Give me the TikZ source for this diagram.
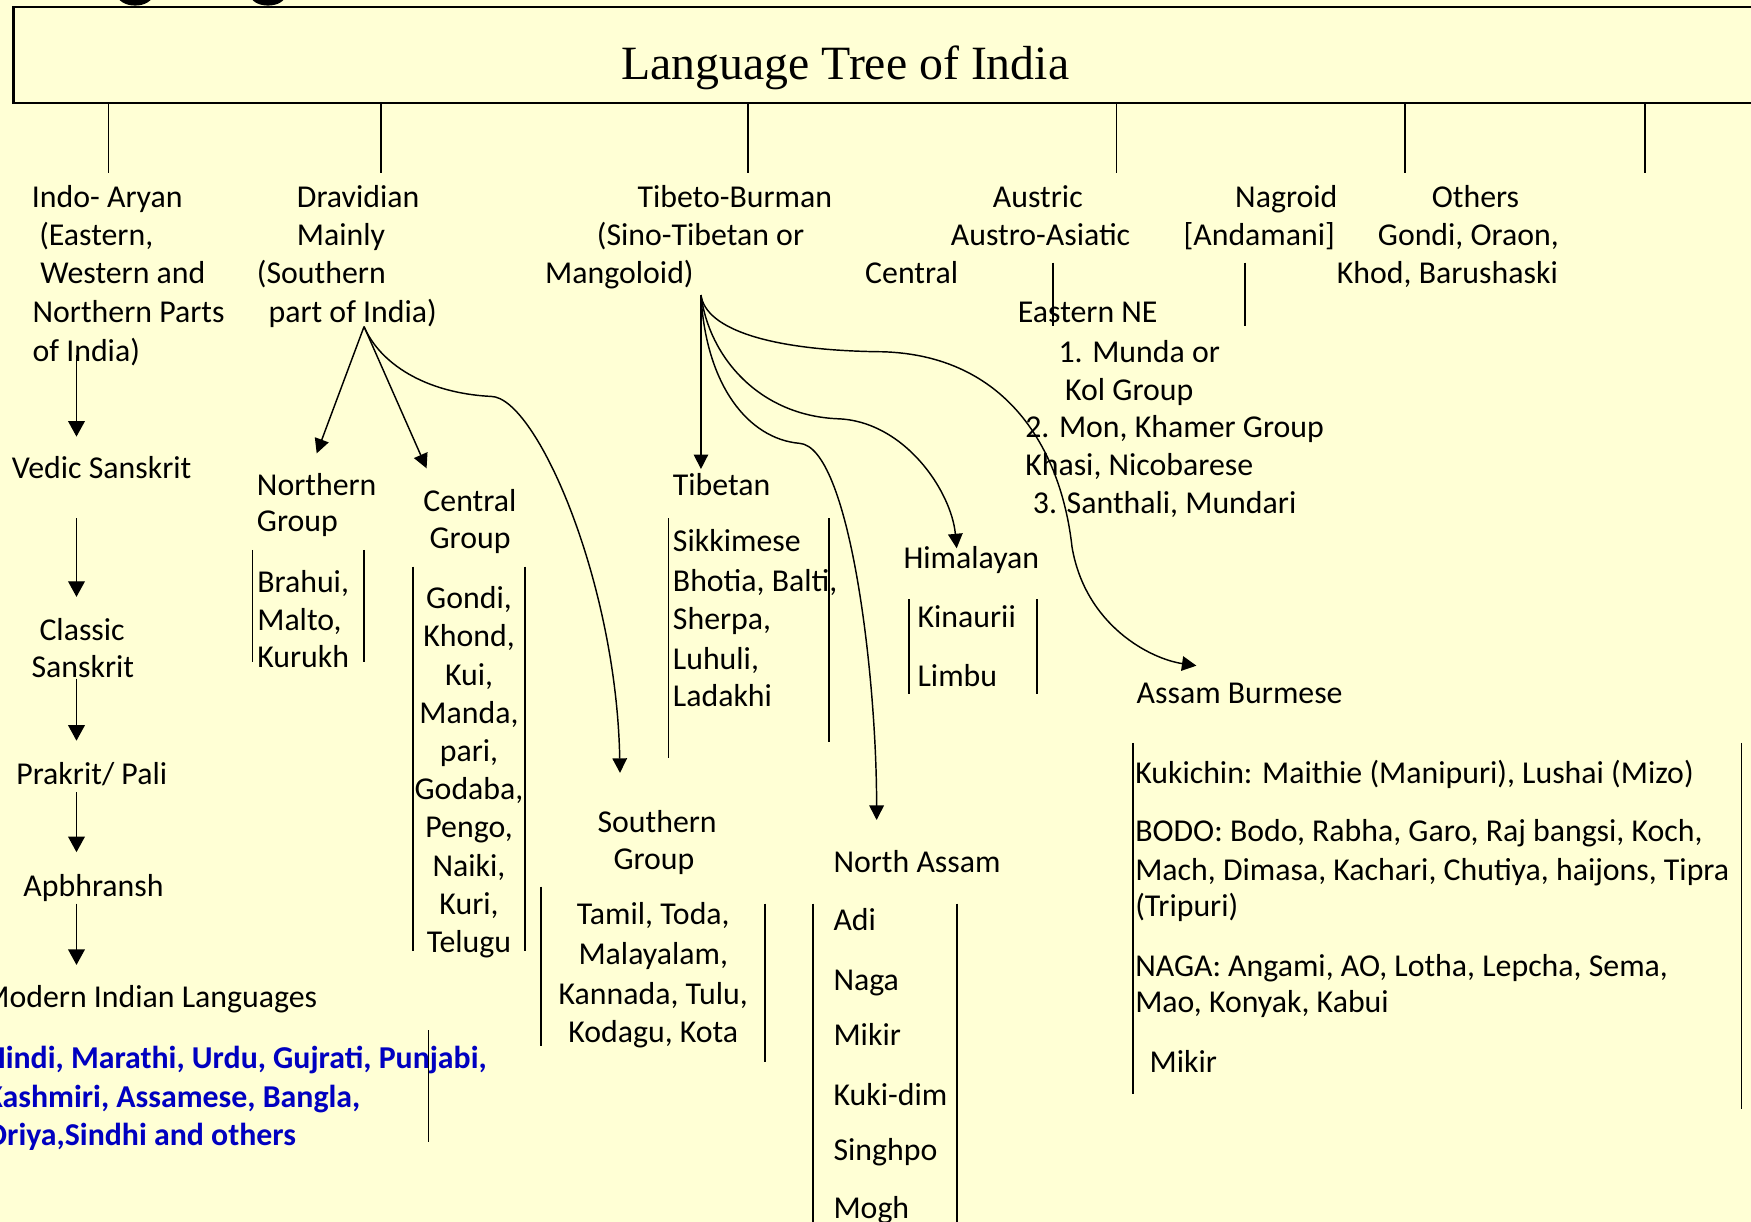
\documentclass[tikz,border=0pt]{standalone}
\usepackage{fontspec}
\setmainfont{Carlito}
\newfontfamily\titlefont{Liberation Serif}
\usetikzlibrary{arrows.meta}
\definecolor{paper}{RGB}{255,255,213}
\definecolor{langblue}{RGB}{0,0,192}
\begin{document}
\begin{tikzpicture}[x=1pt,y=-1pt,
  txt/.style={anchor=base west,inner sep=0pt,font=\fontsize{28.5}{34.4}\selectfont},
  ctxt/.style={txt,anchor=base},
  bluetxt/.style={txt,text=langblue,font=\fontsize{28.5}{34.4}\selectfont\bfseries},
  rule/.style={line width=1.5pt},
  link/.style={line width=1.3pt},
  arr/.style={link,-{Triangle[length=13pt,width=13pt]}},
  bigarr/.style={link,-{Triangle[length=14pt,width=15pt]}},
  ]
\fill[paper] (0,0) rectangle (1568,1094);
\useasboundingbox (0,0) rectangle (1568,1094);

% remains of a heading cut at the top edge
\fill (121,-5) ellipse [x radius=16pt, y radius=10pt];
\fill (240,-5) ellipse [x radius=16pt, y radius=10pt];

% title box
\node[draw,line width=2pt,anchor=north west,inner sep=0pt,
      minimum width=1620pt,minimum height=85.6pt] (titlebox) at (11,5.4) {};
\node[anchor=base west,inner sep=0pt,font=\titlefont\fontsize{42.8}{50}\selectfont]
  (title) at (556,71.6) {Language Tree of India};

% branches from the title box
\foreach \x [count=\i] in {97,341,670,1000,1258,1473}{
  \coordinate (br\i) at (\x,155);
  \draw[link] (br\i |- titlebox.south) -- (br\i);
}

% ---------- top level families ----------
\node[txt] (ia1) at (28.4,186) {Indo- Aryan};
\node[txt] (ia2) at (35,220) {(Eastern,};
\node[txt] (ia3) at (36,254.3) {Western and};
\node[txt] (ia4) at (29,289) {Northern Parts};
\node[txt] (ia5) at (29,324) {of India)};

\node[txt] (dr1) at (265.7,186) {Dravidian};
\node[txt] (dr2) at (265.7,220) {Mainly};
\node[txt] (dr3) at (229.9,254.3) {(Southern};
\node[txt] (dr4) at (240.3,289) {part of India)};

\node[txt] (tb1) at (570.7,186) {Tibeto-Burman};
\node[txt] (tb2) at (534.3,220) {(Sino-Tibetan or};
\node[txt] (tb3) at (488,254.3) {Mangoloid)};

\node[txt] (au1) at (889,186) {Austric};
\node[txt] (au2) at (851.3,220) {Austro-Asiatic};
\node[txt] (au3) at (774.6,254.3) {Central};
\node[txt] (au4) at (911.3,289) {Eastern NE};
\node[txt] (au5) at (947.7,325) {1. Munda or};
\node[txt] (au6) at (953.7,358.2) {Kol Group};
\node[txt] (au7) at (917.9,391.5) {2. Mon, Khamer Group};
\node[txt] (au8) at (917.9,426) {Khasi, Nicobarese};
\node[txt] (au9) at (924.8,459.7) {3. Santhali, Mundari};

\node[txt] (ng1) at (1105.9,186) {Nagroid};
\node[txt] (ng2) at (1059.7,220) {[Andamani]};

\node[txt] (ot1) at (1282,186) {Others};
\node[txt] (ot2) at (1233.7,220) {Gondi, Oraon,};
\node[txt] (ot3) at (1197,254.3) {Khod, Barushaski};

% short rules under Austric and Nagroid
\coordinate (aut) at (942.7,235.2);  \coordinate (aub) at (942.7,291.9);
\coordinate (ngt) at (1114.9,235.2); \coordinate (ngb) at (1114.9,291.9);
\draw[rule] (aut) -- (aub);
\draw[rule] (ngt) -- (ngb);

% ---------- Indo-Aryan chain ----------
\node[txt] (vs) at (10.4,428.3) {Vedic Sanskrit};
\node[txt] (cs1) at (35.2,573.9) {Classic};
\node[txt] (cs2) at (28.1,606.9) {Sanskrit};
\node[txt] (pp) at (14.4,702.9) {Prakrit/ Pali};
\node[txt] (ap) at (20.8,802.7) {Apbhransh};
\node[txt] (mil) at (-16,902.5) {Modern Indian Languages};
\node[bluetxt] (bl1) at (-13,957) {Hindi, Marathi, Urdu, Gujrati, Punjabi,};
\node[bluetxt] (bl2) at (-13,991.5) {Kashmiri, Assamese, Bangla,};
\node[bluetxt] (bl3) at (-13,1026) {Oriya,Sindhi and others};

\foreach \s/\e [count=\i] in {318/391,464/534.5,607.7/663.3,709.4/763.1,809.2/864.1}{
  \coordinate (ias\i) at (68.5,\s);
  \coordinate (iae\i) at (68.5,\e);
  \draw[bigarr] (ias\i) -- (iae\i);
}

% ---------- Dravidian ----------
\coordinate (dapex) at (326,292.5);
\coordinate (ngTip) at (283.6,406);
\coordinate (cgTip) at (382,419.4);
\coordinate (sgTip) at (555.2,692.1);
\draw[arr] (dapex) -- (ngTip);
\draw[arr] (dapex) -- (cgTip);
\draw[arr] (dapex) .. controls (340,325) and (380,352) .. (440,355)
                   .. controls (480,356) and (552,520) .. (sgTip);

\node[txt] (nor1) at (229.9,443.3) {Northern};
\node[txt] (nor2) at (229.9,476.1) {Group};
\node[txt] (cen1) at (379,458.2) {Central};
\node[txt] (cen2) at (384.5,491) {Group};
\node[txt] (sou1) at (534.9,745.1) {Southern};
\node[txt] (sou2) at (549.2,778.5) {Group};

\foreach \t [count=\i] in {{Brahui,},{Malto,},{Kurukh}}{
  \node[txt] (nl\i) at (230.2,{530.9+33.6*(\i-1)}) {\t};
}
\coordinate (nlA) at (226.1,492.5); \coordinate (nlB) at (226.1,593);
\coordinate (nlC) at (326.2,492.5); \coordinate (nlD) at (326.2,593);
\draw[rule] (nlA) -- (nlB);
\draw[rule] (nlC) -- (nlD);

\foreach \t [count=\i] in {{Gondi,},{Khond,},{Kui,},{Manda,},{pari,},{Godaba,},{Pengo,},{Naiki,},{Kuri,},{Telugu}}{
  \node[ctxt] (cl\i) at (420,{545.1+34.2*(\i-1)}) {\t};
}
\coordinate (clA) at (370,507.5);   \coordinate (clB) at (370,851.4);
\coordinate (clC) at (470.1,507.5); \coordinate (clD) at (470.1,851.4);
\draw[rule] (clA) -- (clB);
\draw[rule] (clC) -- (clD);

\node[ctxt] (sl1) at (585,828.3) {Tamil, Toda,};
\node[ctxt] (sl2) at (585,864.1) {Malayalam,};
\node[ctxt] (sl3) at (585,899.3) {Kannada, Tulu,};
\node[ctxt] (sl4) at (585,933.1) {Kodagu, Kota};
\coordinate (slA) at (484.2,794); \coordinate (slB) at (484.2,937);
\coordinate (slC) at (685.1,809.2); \coordinate (slD) at (685.1,951.2);
\draw[rule] (slA) -- (slB);
\draw[rule] (slC) -- (slD);

% rule beside the blue list
\coordinate (mlA) at (383.8,922.4); \coordinate (mlB) at (383.8,1023);
\draw[rule] (mlA) -- (mlB);

% ---------- Tibeto-Burman ----------
\coordinate (tapex) at (627.7,264.2);
\coordinate (tbTip) at (627.7,420);
\coordinate (hmTip) at (856.7,491);
\coordinate (naTip) at (785,734.3);
\coordinate (abTip) at (1071.4,596.1);
\draw[arr] (tapex) -- (tbTip);
\draw[arr] (tapex) .. controls (635,320) and (680,372) .. (750,375)
                   .. controls (810,377) and (852,440) .. (hmTip);
\draw[arr] (tapex) .. controls (632,345) and (670,393) .. (716,397)
                   .. controls (760,400) and (785,600) .. (naTip);
\draw[arr] (tapex) .. controls (632,295) and (690,314) .. (790,315)
                   .. controls (900,318) and (950,400) .. (960,490)
                   .. controls (972,560) and (1030,590) .. (abTip);

\node[txt] (tib) at (602.4,443.3) {Tibetan};
\foreach \t/\y [count=\i] in {Sikkimese/494,{Bhotia, Balti,}/529.8,{Sherpa,}/563.5,{Luhuli,}/599.3,Ladakhi/632.6}{
  \node[txt] (tl\i) at (602.4,\y) {\t};
}
\coordinate (tlA) at (598.5,464.2); \coordinate (tlB) at (598.5,678.7);
\coordinate (tlC) at (742.4,464.2); \coordinate (tlD) at (742.4,664.5);
\draw[rule] (tlA) -- (tlB);
\draw[rule] (tlC) -- (tlD);

\node[txt] (him) at (808.9,509.5) {Himalayan};
\node[txt] (hl1) at (821.5,561.6) {Kinaurii};
\node[txt] (hl2) at (821.5,614.6) {Limbu};
\coordinate (hlA) at (814,536.7);   \coordinate (hlB) at (814,621.1);
\coordinate (hlC) at (928.6,536.7); \coordinate (hlD) at (928.6,621.1);
\draw[rule] (hlA) -- (hlB);
\draw[rule] (hlC) -- (hlD);

\node[txt] (nas) at (746.2,781.2) {North Assam};
\foreach \t/\y [count=\i] in {Adi/833.4,Naga/886.7,Mikir/936.6,Kuki-dim/989.6,Singhpo/1039.5,Mogh/1091.3}{
  \node[txt] (na\i) at (746.2,\y) {\t};
}
\coordinate (naA) at (728.3,809.2); \coordinate (naB) at (728.3,1100);
\coordinate (naC) at (856.7,809.2); \coordinate (naD) at (856.7,1100);
\draw[rule] (naA) -- (naB);
\draw[rule] (naC) -- (naD);

\node[txt] (abu) at (1017.7,629.9) {Assam Burmese};
\node[txt] (ab1) at (1016.4,701.7) {Kukichin: Maithie (Manipuri), Lushai (Mizo)};
\node[txt] (ab2) at (1016.4,753.6) {BODO: Bodo, Rabha, Garo, Raj bangsi, Koch,};
\node[txt] (ab3) at (1016.4,788.1) {Mach, Dimasa, Kachari, Chutiya, haijons, Tipra};
\node[txt] (ab4) at (1016.4,820.7) {(Tripuri)};
\node[txt] (ab5) at (1016.4,874.5) {NAGA: Angami, AO, Lotha, Lepcha, Sema,};
\node[txt] (ab6) at (1016.4,906.3) {Mao, Konyak, Kabui};
\node[txt] (ab7) at (1029.3,960) {Mikir};
\coordinate (abA) at (1014.7,665.2); \coordinate (abB) at (1014.7,980);
\coordinate (abC) at (1559.4,665.2); \coordinate (abD) at (1559.4,993.5);
\draw[rule] (abA) -- (abB);
\draw[rule] (abC) -- (abD);
\end{tikzpicture}
\end{document}
